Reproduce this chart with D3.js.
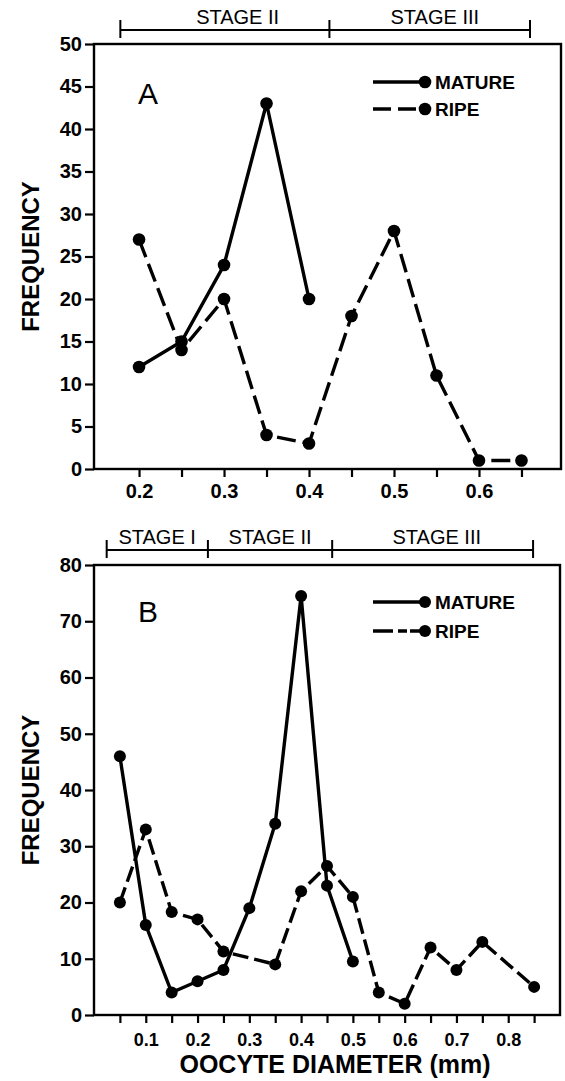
<!DOCTYPE html>
<html lang="en">
<head>
<meta charset="UTF-8">
<title>Oocyte diameter frequency</title>
<script src="https://d3js.org/d3.v7.min.js"></script>
<style>
    body { margin: 0; background: #fff; }
    svg { display: block; font-family: "Liberation Sans", Arial, sans-serif; }
    .axis path, .axis line { stroke: #000; stroke-width: 2.2; }
    .axis text { font-weight: bold; fill: #000; }
</style>
</head>
<body>
<svg id="chart" width="565" height="1081"></svg>
<script>
// ---- data ----
// panel A
const diamA_mature = [0.2, 0.25, 0.3, 0.35, 0.4];
const freqA_mature = [12, 15, 24, 43, 20];
const diamA_ripe = [0.2, 0.25, 0.3, 0.35, 0.4, 0.45, 0.5, 0.55, 0.6, 0.65];
const freqA_ripe = [27, 14, 20, 4, 3, 18, 28, 11, 1, 1];
const xTicksA = [0.2, 0.25, 0.3, 0.35, 0.4, 0.45, 0.5, 0.55, 0.6, 0.65];
const xLabelsA = ["0.2", "", "0.3", "", "0.4", "", "0.5", "", "0.6", ""];
const yTicksA = [0, 5, 10, 15, 20, 25, 30, 35, 40, 45, 50];
const stagesA = [
    {name: "STAGE II", from: 0.178, to: 0.424, at: 0.316},
    {name: "STAGE III", from: 0.424, to: 0.66, at: 0.548}
];

// panel B
const diamB_mature = [0.05, 0.1, 0.15, 0.2, 0.25, 0.3, 0.35, 0.4, 0.45, 0.5];
const freqB_mature = [46, 16, 4, 6, 8, 19, 34, 74.5, 23, 9.5];
const diamB_ripe = [0.05, 0.1, 0.15, 0.2, 0.25, 0.35, 0.4, 0.45, 0.5, 0.55, 0.6, 0.65, 0.7, 0.75, 0.85];
const freqB_ripe = [20, 33, 18.3, 17, 11.3, 9, 22, 26.5, 21, 4, 2, 12, 8, 13, 5];
const xTicksB = [0.05, 0.1, 0.15, 0.2, 0.25, 0.3, 0.35, 0.4, 0.45, 0.5, 0.55, 0.6, 0.65, 0.7, 0.75, 0.8, 0.85];
const xLabelsB = ["", "0.1", "", "0.2", "", "0.3", "", "0.4", "", "0.5", "", "0.6", "", "0.7", "", "0.8", ""];
const yTicksB = [0, 10, 20, 30, 40, 50, 60, 70, 80];
const stagesB = [
    {name: "STAGE I", from: 0.0245, to: 0.22, at: 0.122},
    {name: "STAGE II", from: 0.22, to: 0.46, at: 0.34},
    {name: "STAGE III", from: 0.46, to: 0.848, at: 0.662}
];

const seriesNames = ["MATURE", "RIPE"];
const yTitle = "FREQUENCY";
const xTitle = "OOCYTE DIAMETER (mm)";

const svg = d3.select('#chart');

function drawPanel(o) {
    const g = svg.append('g');
    const x = d3.scaleLinear().domain(o.xDomain).range([o.l, o.r]);
    const y = d3.scaleLinear().domain(o.yDomain).range([o.b, o.t]);

    // frame
    g.append('rect')
        .attr('x', o.l).attr('y', o.t)
        .attr('width', o.r - o.l).attr('height', o.b - o.t)
        .attr('fill', 'none').attr('stroke', '#000').attr('stroke-width', 2.4);

    // axes
    const ya = g.append('g').attr('class', 'axis')
        .attr('transform', `translate(${o.l},0)`)
        .call(d3.axisLeft(y).tickValues(o.yTicks).tickSize(9).tickPadding(3).tickSizeOuter(0));
    ya.selectAll('text').style('font-size', '20px');

    const xa = g.append('g').attr('class', 'axis')
        .attr('transform', `translate(0,${o.b})`)
        .call(d3.axisBottom(x).tickValues(o.xTicks)
            .tickFormat((d, i) => o.xLabels[i]).tickSize(8).tickPadding(o.xPad).tickSizeOuter(0));
    xa.selectAll('text').style('font-size', o.xFont + 'px');
    ya.select('.domain').remove();
    xa.select('.domain').remove();

    // y title
    g.append('text')
        .attr('transform', `translate(39,${(o.t + o.b) / 2}) rotate(-90)`)
        .attr('text-anchor', 'middle')
        .style('font-size', '24px').style('font-weight', 'bold')
        .text(yTitle);

    // panel letter
    g.append('text').attr('x', 138).attr('y', o.t + o.letterDy)
        .style('font-size', '30px').text(o.letter);

    // stage bracket
    const sg = g.append('g');
    const edges = [o.stages[0].from].concat(o.stages.map(s => s.to));
    sg.append('line')
        .attr('x1', x(edges[0])).attr('x2', x(edges[edges.length - 1]))
        .attr('y1', o.stageY).attr('y2', o.stageY)
        .attr('stroke', '#000').attr('stroke-width', 2);
    sg.selectAll('line.tk').data(edges).join('line').attr('class', 'tk')
        .attr('x1', d => x(d)).attr('x2', d => x(d))
        .attr('y1', o.stageY - 10).attr('y2', o.stageY + 8)
        .attr('stroke', '#000').attr('stroke-width', 2);
    sg.selectAll('text').data(o.stages).join('text')
        .attr('x', d => x(d.at)).attr('y', o.stageY - 6)
        .attr('text-anchor', 'middle')
        .style('font-size', '20px')
        .text(d => d.name);

    // series
    const line = d3.line().x(d => x(d[0])).y(d => y(d[1]));
    const series = [
        {pts: d3.zip(o.mDiam, o.mFreq), dash: null},
        {pts: d3.zip(o.rDiam, o.rFreq), dash: o.dash}
    ];
    series.forEach(s => {
        g.append('path').datum(s.pts)
            .attr('d', line)
            .attr('fill', 'none').attr('stroke', '#000')
            .attr('stroke-width', 3.4)
            .attr('stroke-dasharray', s.dash);
        g.selectAll(null).data(s.pts).join('circle')
            .attr('cx', d => x(d[0])).attr('cy', d => y(d[1]))
            .attr('r', o.r0).attr('fill', '#000');
    });

    // legend
    const lg = g.append('g');
    seriesNames.forEach((name, i) => {
        const ly = o.legY[i];
        lg.append('line').attr('x1', 373).attr('x2', 425).attr('y1', ly).attr('y2', ly)
            .attr('stroke', '#000').attr('stroke-width', 3.4)
            .attr('stroke-dasharray', i ? o.legDash : null);
        lg.append('circle').attr('cx', 425).attr('cy', ly).attr('r', o.r0).attr('fill', '#000');
        lg.append('text').attr('x', 435).attr('y', ly + 7)
            .style('font-size', '19px').style('font-weight', 'bold')
            .text(name);
    });
    return {x, y};
}

drawPanel({
    l: 94, r: 561, t: 44, b: 469,
    xDomain: [0.147, 0.6965], yDomain: [0, 50],
    xTicks: xTicksA, xLabels: xLabelsA, yTicks: yTicksA, xFont: 20, xPad: 7,
    letter: 'A', letterDy: 60,
    stages: stagesA, stageY: 30,
    mDiam: diamA_mature, mFreq: freqA_mature, rDiam: diamA_ripe, rFreq: freqA_ripe,
    dash: '19,7', legDash: '18,7', r0: 6.3, legY: [82, 109]
});

drawPanel({
    l: 94, r: 560, t: 565, b: 1015,
    xDomain: [0, 0.9], yDomain: [0, 80],
    xTicks: xTicksB, xLabels: xLabelsB, yTicks: yTicksB, xFont: 18, xPad: 10,
    letter: 'B', letterDy: 57,
    stages: stagesB, stageY: 550,
    mDiam: diamB_mature, mFreq: freqB_mature, rDiam: diamB_ripe, rFreq: freqB_ripe,
    dash: '16,6', legDash: '20,5,9,3', r0: 6, legY: [602, 631]
});

// x title
svg.append('text')
    .attr('x', 335).attr('y', 1073)
    .attr('text-anchor', 'middle')
    .style('font-size', '25px').style('font-weight', 'bold')
    .text(xTitle);
</script>
</body>
</html>
